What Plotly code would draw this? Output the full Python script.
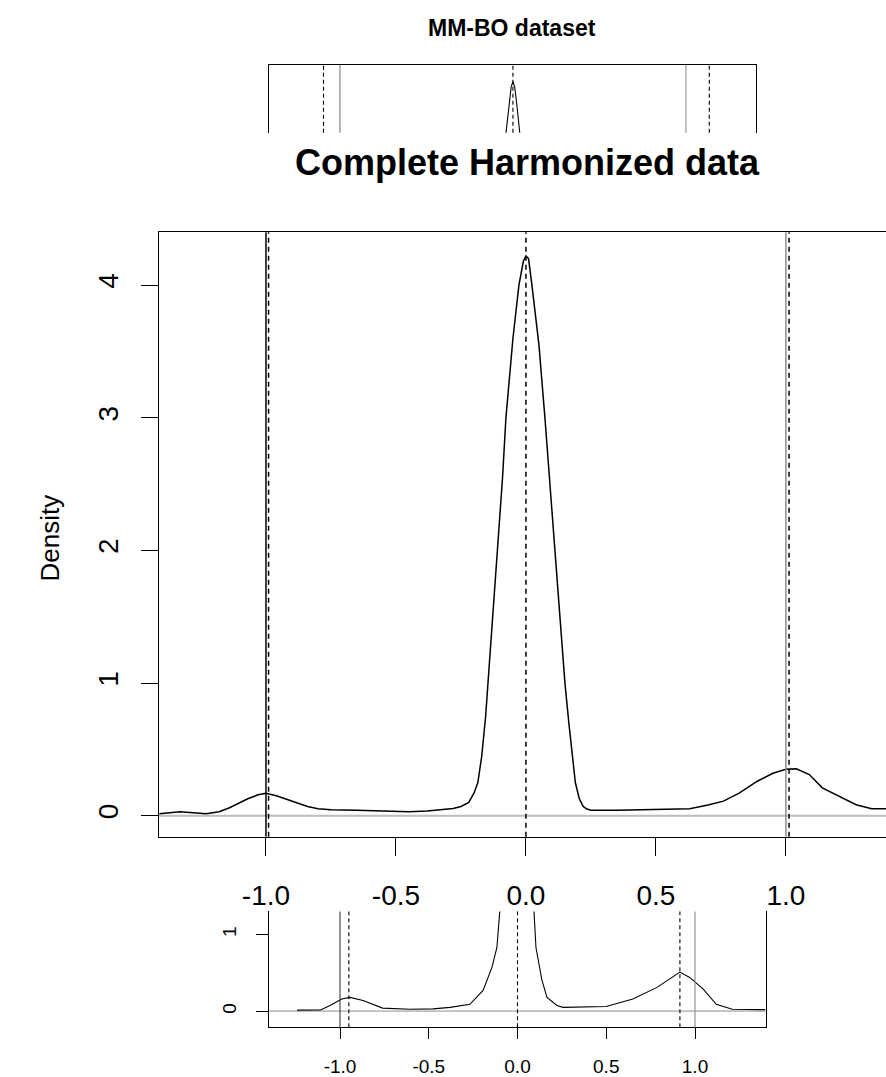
import plotly.graph_objects as go

W, H = 886, 1077

# ---------------- data ----------------
# main panel: "Complete Harmonized data"
main_x = [-1.41, -1.33, -1.23, -1.18, -1.14, -1.10, -1.07, -1.03, -1.0, -0.96, -0.92, -0.88, -0.84, -0.80,
          -0.75, -0.65, -0.55, -0.45, -0.38, -0.32, -0.28, -0.25, -0.22, -0.20, -0.185, -0.17, -0.155,
          -0.146, -0.13, -0.11, -0.09, -0.077, -0.05, -0.027, -0.01, 0.0, 0.01, 0.023, 0.05, 0.073, 0.09,
          0.11, 0.13, 0.15, 0.165, 0.18, 0.19, 0.205, 0.22, 0.235, 0.25, 0.35, 0.45, 0.55, 0.63, 0.70,
          0.76, 0.82, 0.89, 0.95, 1.0, 1.04, 1.09, 1.14, 1.2, 1.27, 1.33, 1.385]
main_density = [0.015, 0.03, 0.015, 0.03, 0.06, 0.10, 0.128, 0.158, 0.17, 0.15, 0.125, 0.098, 0.07, 0.053,
                0.045, 0.042, 0.035, 0.03, 0.035, 0.045, 0.055, 0.07, 0.10, 0.17, 0.25, 0.45, 0.75,
                1.0, 1.45, 2.0, 2.55, 3.0, 3.6, 4.0, 4.18, 4.22, 4.2, 4.0, 3.55, 3.0, 2.55,
                2.0, 1.5, 1.0, 0.7, 0.4, 0.25, 0.13, 0.07, 0.05, 0.042, 0.042, 0.045, 0.048, 0.053, 0.08,
                0.11, 0.17, 0.26, 0.32, 0.35, 0.353, 0.31, 0.21, 0.15, 0.083, 0.053, 0.053]
main_solid_v = [-1.0, 1.0]
main_solid_v_colors = ["#000000", "#8c8c8c"]
main_dashed_v = [-0.99, 0.0, 1.012]

# lower inset
bot_x = [-1.242, -1.11, -1.056, -0.99, -0.944, -0.87, -0.76, -0.606, -0.476, -0.38, -0.268, -0.194,
         -0.144, -0.116, -0.10, -0.08, -0.05, 0.0, 0.05, 0.08, 0.093, 0.104, 0.138, 0.166, 0.222, 0.257,
         0.50, 0.65, 0.786, 0.915, 0.97, 1.045, 1.12, 1.21, 1.366, 1.395]
bot_density = [0.013, 0.015, 0.075, 0.16, 0.18, 0.14, 0.04, 0.026, 0.03, 0.05, 0.09, 0.27,
               0.57, 0.83, 1.3, 2.0, 3.2, 4.4, 3.2, 2.0, 1.3, 0.83, 0.4, 0.18, 0.075, 0.05,
               0.06, 0.16, 0.31, 0.51, 0.44, 0.29, 0.09, 0.026, 0.02, 0.02]
bot_solid_v = [-1.0, 1.0]
bot_solid_v_colors = ["#3c3c3c", "#8c8c8c"]
bot_dashed_v = [-0.95, 0.0, 0.915]

# upper inset: "MM-BO dataset"
top_x = [-1.3, -0.5, -0.1, -0.06, -0.04, -0.03, -0.02, -0.01, 0.0, 0.01, 0.02, 0.03, 0.04, 0.06, 0.1, 0.5, 1.3]
top_density = [0.02, 0.05, 1.0, 4.0, 6.0, 6.8, 7.6, 8.3, 8.55, 8.3, 7.6, 6.8, 6.0, 4.0, 1.0, 0.05, 0.02]
top_solid_v = [-1.0, 1.0]
top_solid_v_colors = ["#7a7a7a", "#8c8c8c"]
top_dashed_v = [-1.095, 0.0, 1.135]

x_tickvals = [-1.0, -0.5, 0.0, 0.5, 1.0]
x_ticktext = ["-1.0", "-0.5", "0.0", "0.5", "1.0"]
main_y_tickvals = [0, 1, 2, 3, 4]
bot_y_tickvals = [0, 1]

FONT = "Liberation Sans, Arial, sans-serif"


def fx(px):
    return px / W


def fy(py):
    return 1 - py / H


fig = go.Figure()

# traces
fig.add_trace(go.Scatter(x=main_x, y=main_density, mode="lines", line=dict(color="black", width=1.5),
                         xaxis="x", yaxis="y", showlegend=False, hoverinfo="skip"))
fig.add_trace(go.Scatter(x=bot_x, y=bot_density, mode="lines", line=dict(color="black", width=1.1),
                         xaxis="x2", yaxis="y2", showlegend=False, hoverinfo="skip"))
fig.add_trace(go.Scatter(x=top_x, y=top_density, mode="lines", line=dict(color="black", width=1.1),
                         xaxis="x3", yaxis="y3", showlegend=False, hoverinfo="skip"))

shapes = []


def add_panel_lines(xref, yref, solids, solid_cols, dashed, lw, dash):
    shapes.append(dict(type="line", xref=xref + " domain", yref=yref, x0=0, x1=1, y0=0, y1=0,
                       line=dict(color="#bebebe", width=lw + 0.6), layer="below"))
    for v, c in zip(solids, solid_cols):
        shapes.append(dict(type="line", xref=xref, yref=yref + " domain", x0=v, x1=v, y0=0, y1=1,
                           line=dict(color=c, width=lw)))
    for v in dashed:
        shapes.append(dict(type="line", xref=xref, yref=yref + " domain", x0=v, x1=v, y0=0, y1=1,
                           line=dict(color="black", width=lw, dash=dash)))


add_panel_lines("x", "y", main_solid_v, main_solid_v_colors, main_dashed_v, 1.5, "5px,4px")
add_panel_lines("x2", "y2", bot_solid_v, bot_solid_v_colors, bot_dashed_v, 1.1, "4px,3px")
add_panel_lines("x3", "y3", top_solid_v, top_solid_v_colors, top_dashed_v, 1.1, "4px,3px")

axis_common = dict(showgrid=False, zeroline=False, linecolor="black", tickcolor="black",
                   fixedrange=True)

fig.update_layout(
    width=W, height=H,
    margin=dict(l=0, r=0, t=0, b=0),
    paper_bgcolor="white", plot_bgcolor="rgba(0,0,0,0)",
    font=dict(family=FONT, color="black"),
    shapes=shapes,
    # main panel
    xaxis=dict(domain=[fx(159), 1.0], range=[-1.4115, 1.385], anchor="y",
               showline=True, linewidth=1.4, mirror=True, ticks="outside", ticklen=18, tickwidth=1.4,
               tickvals=x_tickvals, ticktext=x_ticktext, tickfont=dict(size=28),
               ticklabelstandoff=16, **axis_common),
    yaxis=dict(domain=[fy(839), fy(233)], range=[-0.158, 4.398], anchor="x",
               showline=True, linewidth=1.4, mirror=False, ticks="outside", ticklen=17, tickwidth=1.4,
               tickvals=main_y_tickvals, tickfont=dict(size=28), tickangle=-90,
               ticklabelstandoff=12, **axis_common),
    # lower inset
    xaxis2=dict(domain=[fx(269), fx(766)], range=[-1.40, 1.40], anchor="y2",
                showline=True, linewidth=1.1, mirror=False, ticks="outside", ticklen=11, tickwidth=1.1,
                tickvals=x_tickvals, ticktext=x_ticktext, tickfont=dict(size=19),
                ticklabelstandoff=11, **axis_common),
    yaxis2=dict(domain=[fy(1030), fy(914)], range=[-0.208, 1.30], anchor="x2",
                showline=True, linewidth=1.1, mirror=True, ticks="outside", ticklen=12, tickwidth=1.1,
                tickvals=bot_y_tickvals, tickfont=dict(size=19), tickangle=-90,
                ticklabelstandoff=12, **axis_common),
    # upper inset
    xaxis3=dict(domain=[fx(269), fx(756)], range=[-1.41, 1.405], anchor="y3", side="top",
                showline=True, linewidth=1.1, mirror=False, ticks="", showticklabels=False, **axis_common),
    yaxis3=dict(domain=[fy(133), fy(65)], range=[6.0, 9.4], anchor="x3",
                showline=True, linewidth=1.1, mirror=True, ticks="", showticklabels=False, **axis_common),
    annotations=[
        dict(text="<b>MM-BO dataset</b>", x=fx(512), y=fy(28), xref="paper", yref="paper",
             showarrow=False, font=dict(size=23, family=FONT), xanchor="center", yanchor="middle"),
        dict(text="<b>Complete Harmonized data</b>", x=fx(527), y=fy(163), xref="paper", yref="paper",
             showarrow=False, font=dict(size=36, family=FONT), xanchor="center", yanchor="middle"),
        dict(text="Density", x=fx(50), y=fy(540), xref="paper", yref="paper", textangle=-90,
             showarrow=False, font=dict(size=26, family=FONT), xanchor="center", yanchor="middle"),
    ],
)

fig.write_html("out.html")
